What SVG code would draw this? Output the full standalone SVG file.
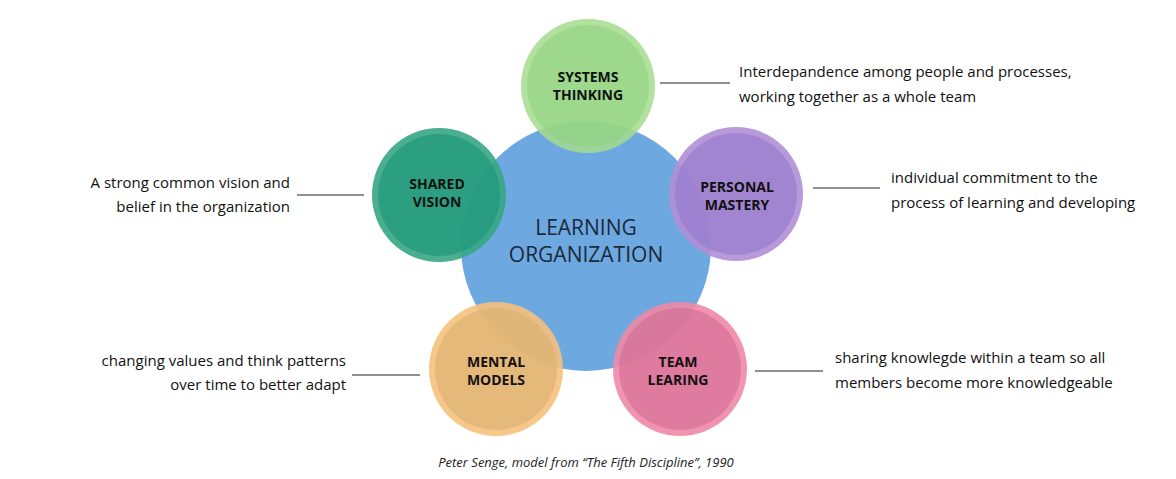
<svg xmlns="http://www.w3.org/2000/svg" width="1176" height="479" viewBox="0 0 1176 479">
<style>
.lbl{font-family:"Open Sans","Liberation Sans",sans-serif;font-weight:bold;font-size:14px;fill:#111;text-anchor:middle}
.d{font-family:"Open Sans","Liberation Sans",sans-serif;font-size:15px;fill:#111}
.r{text-anchor:end}
.ln{stroke:#222;stroke-width:1}
</style>
<rect width="1176" height="479" fill="#fff"/>
<g id="center"><circle cx="586" cy="246" r="125" fill="#6ea8e0"/>
<text x="586" y="235" font-family="Open Sans,Liberation Sans,sans-serif" font-size="21" fill="#1a2a3a" text-anchor="middle">LEARNING</text>
<text x="586" y="262" font-family="Open Sans,Liberation Sans,sans-serif" font-size="21" fill="#1a2a3a" text-anchor="middle">ORGANIZATION</text></g>
<g id="systems"><circle cx="588" cy="86" r="67" fill="#a5dc8c" opacity="0.85"/><circle cx="588" cy="86" r="61" fill="#8fd282" opacity="0.6"/>
<text class="lbl" x="588" y="82">SYSTEMS</text><text class="lbl" x="588" y="100">THINKING</text></g>
<g id="shared"><circle cx="439" cy="195" r="67" fill="#35a683" opacity="0.9"/><circle cx="439" cy="195" r="61" fill="#1a9478" opacity="0.6"/>
<text class="lbl" x="437" y="189">SHARED</text><text class="lbl" x="437" y="207">VISION</text></g>
<g id="personal"><circle cx="736" cy="194" r="67" fill="#b08fd6" opacity="0.9"/><circle cx="736" cy="194" r="61" fill="#9278cc" opacity="0.6"/>
<text class="lbl" x="737" y="192">PERSONAL</text><text class="lbl" x="737" y="210">MASTERY</text></g>
<g id="mental"><circle cx="496" cy="369" r="67" fill="#f6c07c" opacity="0.9"/><circle cx="496" cy="369" r="61" fill="#d9b070" opacity="0.6"/>
<text class="lbl" x="496" y="367">MENTAL</text><text class="lbl" x="496" y="385">MODELS</text></g>
<g id="team"><circle cx="680" cy="369" r="67" fill="#ee88a6" opacity="0.9"/><circle cx="680" cy="369" r="61" fill="#d46a93" opacity="0.6"/>
<text class="lbl" x="678" y="367">TEAM</text><text class="lbl" x="678" y="385">LEARING</text></g>
<g id="connectors">
<line class="ln" x1="660" y1="83" x2="730" y2="83"/>
<line class="ln" x1="297" y1="195" x2="364" y2="195"/>
<line class="ln" x1="813" y1="188" x2="880" y2="188"/>
<line class="ln" x1="352" y1="375" x2="420" y2="375"/>
<line class="ln" x1="755" y1="371" x2="823" y2="371"/>
</g>
<g id="texts">
<text class="d" x="739" y="77">Interdepandence among people and processes,</text>
<text class="d" x="739" y="102">working together as a whole team</text>
<text class="d r" x="290" y="188">A strong common vision and</text>
<text class="d r" x="290" y="212">belief in the organization</text>
<text class="d" x="891" y="183">individual commitment to the</text>
<text class="d" x="891" y="208">process of learning and developing</text>
<text class="d r" x="346" y="366">changing values and think patterns</text>
<text class="d r" x="346" y="390">over time to better adapt</text>
<text class="d" x="835" y="363">sharing knowlegde within a team so all</text>
<text class="d" x="835" y="388">members become more knowledgeable</text>
<text x="586" y="467" font-family="Open Sans,Liberation Sans,sans-serif" font-size="13" font-style="italic" fill="#222" text-anchor="middle">Peter Senge, model from “The Fifth Discipline”, 1990</text>
</g>
</svg>
